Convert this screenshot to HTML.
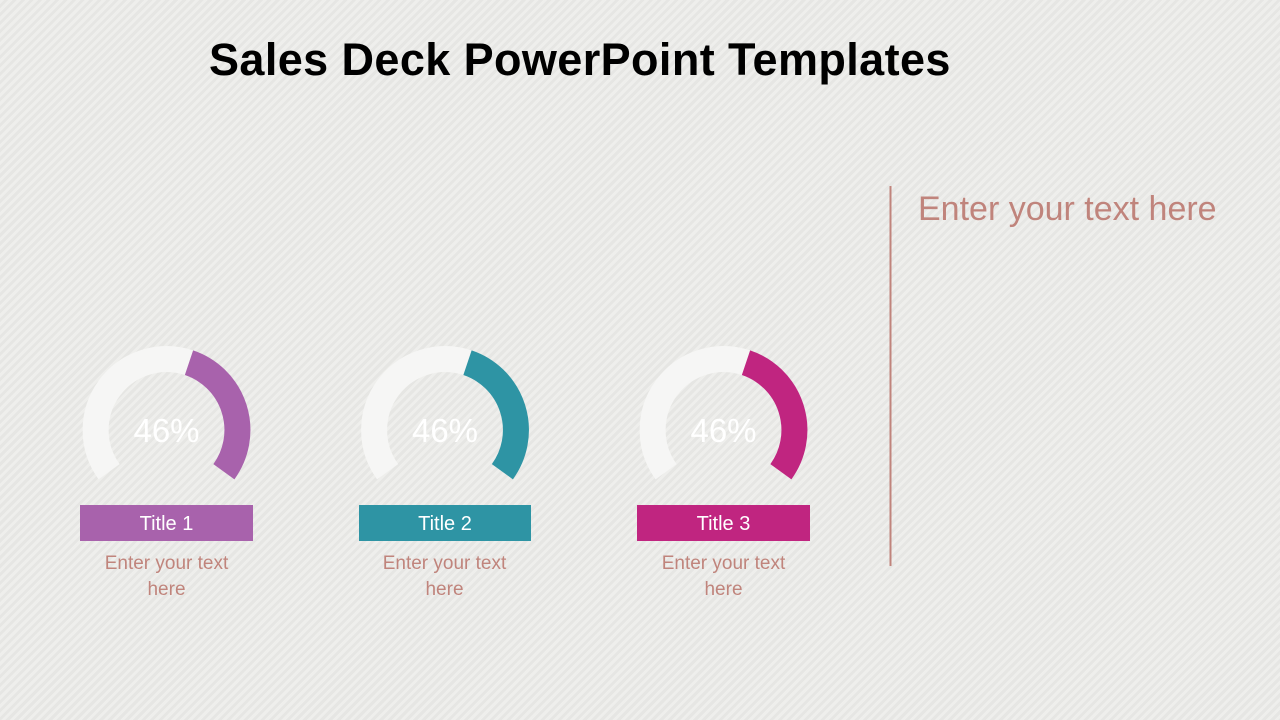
<!DOCTYPE html>
<html><head><style>
body{margin:0;width:1280px;height:720px;overflow:hidden;font-family:"Liberation Sans",sans-serif;
background:#eaeae7 repeating-linear-gradient(135deg,rgba(255,255,255,0.22) 0 3px,rgba(0,0,0,0.015) 3px 6px);position:relative}
h1{position:absolute;left:209px;top:34px;margin:0;font-size:45px;font-weight:bold;color:#000;letter-spacing:0.4px}
.box{position:absolute;top:505px;width:173px;height:36px;color:#fff;font-size:20px;line-height:38px;text-align:center}
.txt{position:absolute;top:551px;width:173px;text-align:center;color:#c0847c;font-size:19px;line-height:26px}
.pct{font-family:"Liberation Sans",sans-serif;font-size:33px;fill:#fff}
</style></head><body>
<h1>Sales Deck PowerPoint Templates</h1>
<svg width="1280" height="720" style="position:absolute;left:0;top:0">
<g transform="translate(166.5,430)">
<path d="M -57.4 41.7 A 71 71 0 0 1 22.5 -67.3" fill="none" stroke="#f6f6f5" stroke-width="26"/>
<path d="M 22.5 -67.3 A 71 71 0 0 1 57.4 41.7" fill="none" stroke="#a862ac" stroke-width="26"/>
<text class="pct" x="0" y="12" text-anchor="middle">46%</text></g>
<g transform="translate(445,430)">
<path d="M -57.4 41.7 A 71 71 0 0 1 22.5 -67.3" fill="none" stroke="#f6f6f5" stroke-width="26"/>
<path d="M 22.5 -67.3 A 71 71 0 0 1 57.4 41.7" fill="none" stroke="#2e94a4" stroke-width="26"/>
<text class="pct" x="0" y="12" text-anchor="middle">46%</text></g>
<g transform="translate(723.5,430)">
<path d="M -57.4 41.7 A 71 71 0 0 1 22.5 -67.3" fill="none" stroke="#f6f6f5" stroke-width="26"/>
<path d="M 22.5 -67.3 A 71 71 0 0 1 57.4 41.7" fill="none" stroke="#c02580" stroke-width="26"/>
<text class="pct" x="0" y="12" text-anchor="middle">46%</text></g>
<line x1="890.5" y1="186" x2="890.5" y2="566" stroke="#c0847c" stroke-width="2"/>
</svg>
<div class="box" style="left:80px;background:#a862ac">Title 1</div>
<div class="box" style="left:359px;width:172px;background:#2e94a4">Title 2</div>
<div class="box" style="left:637px;background:#c02580">Title 3</div>
<div class="txt" style="left:80px">Enter your text<br>here</div>
<div class="txt" style="left:358px">Enter your text<br>here</div>
<div class="txt" style="left:637px">Enter your text<br>here</div>
<div style="position:absolute;left:918px;top:190px;font-size:34px;color:#c0847c">Enter your text here</div>
</body></html>
